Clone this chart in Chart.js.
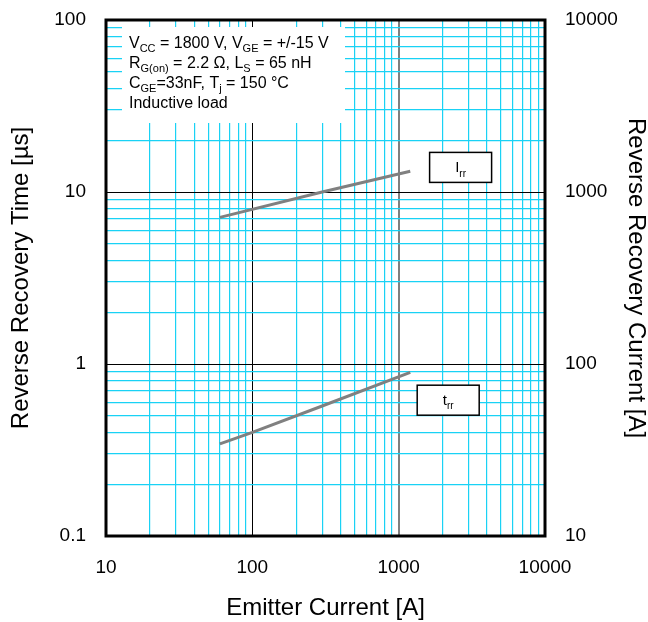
<!DOCTYPE html>
<html lang="en">
<head>
  <meta charset="UTF-8">
  <title>Reverse Recovery vs Emitter Current</title>
  <script src="https://cdn.jsdelivr.net/npm/chart.js"></script>
  <style>
    body { margin: 0; background: #fff; }
    #wrap { width: 648px; height: 622px; }
  </style>
</head>
<body>
  <div id="wrap"><canvas id="rrChart" width="648" height="622"></canvas></div>

  <script>
    // data
    const irrCurrent = [60, 300, 1200];        // emitter current [A]
    const irrValues  = [712, 1000, 1320];      // reverse recovery current [A]
    const trrCurrent = [60, 100, 300, 1200];   // emitter current [A]
    const trrValues  = [0.343, 0.40, 0.57, 0.894]; // reverse recovery time [us]

    const xDecades  = [10, 100, 1000, 10000];
    const yDecades  = [0.1, 1, 10, 100];
    const y2Decades = [10, 100, 1000, 10000];

    const noteLines = [
      [['V', 0], ['CC', 1], [' = 1800 V, V', 0], ['GE', 1], [' = +/-15 V', 0]],
      [['R', 0], ['G(on)', 1], [' = 2.2 \u03A9, L', 0], ['S', 1], [' = 65 nH', 0]],
      [['C', 0], ['GE', 1], ['=33nF, T', 0], ['j', 1], [' = 150 \u00B0C', 0]],
      [['Inductive load', 0]]
    ];

    const FONT = 'Arial, "Liberation Sans", sans-serif';
    const CYAN = '#19d2f5';

    // every 1..9 step inside the decades
    function logTicks(decades) {
      const out = [];
      for (let i = 0; i < decades.length - 1; i++) {
        for (let k = 1; k < 10; k++) out.push(+(decades[i] * k).toPrecision(3));
      }
      out.push(decades[decades.length - 1]);
      return out;
    }

    function isDecade(v) {
      const l = Math.log10(v);
      return Math.abs(l - Math.round(l)) < 1e-9;
    }

    function drawRich(ctx, parts, x, y, size) {
      parts.forEach(([txt, sub]) => {
        ctx.font = (sub ? Math.round(size * 0.68) : size) + 'px ' + FONT;
        ctx.fillText(txt, x, y + (sub ? size * 0.28 : 0));
        x += ctx.measureText(txt).width;
      });
    }

    const overlay = {
      id: 'overlay',
      beforeDatasetsDraw(chart) {
        const ctx = chart.ctx, a = chart.chartArea;
        // white note box covering the grid
        ctx.save();
        ctx.fillStyle = '#fff';
        ctx.fillRect(a.left + 16, a.top + 7, 223, 96);
        ctx.fillStyle = '#000';
        ctx.textBaseline = 'alphabetic';
        noteLines.forEach((line, i) => drawRich(ctx, line, a.left + 23, a.top + 28 + i * 20, 16));
        ctx.restore();
      },
      afterDatasetsDraw(chart) {
        const ctx = chart.ctx, sx = chart.scales.x;
        const boxes = [
          { x: sx.getPixelForValue(2650), y: chart.scales.y2.getPixelForValue(1390), main: 'I', sub: 'rr' },
          { x: sx.getPixelForValue(2180), y: chart.scales.y.getPixelForValue(0.616), main: 't', sub: 'rr' }
        ];
        ctx.save();
        boxes.forEach(b => {
          ctx.fillStyle = '#fff';
          ctx.fillRect(b.x - 31, b.y - 15, 62, 30);
          ctx.strokeStyle = '#000';
          ctx.lineWidth = 1.5;
          ctx.strokeRect(b.x - 31, b.y - 15, 62, 30);
          ctx.fillStyle = '#000';
          ctx.font = '15px ' + FONT;
          const w1 = ctx.measureText(b.main).width;
          ctx.font = '10px ' + FONT;
          const w2 = ctx.measureText(b.sub).width;
          drawRich(ctx, [[b.main, 0], [b.sub, 1]], b.x - (w1 + w2) / 2, b.y + 5, 15);
        });
        ctx.restore();
      },
      afterDraw(chart) {
        const ctx = chart.ctx, a = chart.chartArea;
        ctx.save();
        ctx.strokeStyle = '#000';
        ctx.lineWidth = 3;
        ctx.strokeRect(a.left, a.top, a.right - a.left, a.bottom - a.top);
        ctx.restore();
      }
    };

    function gridColor(c) {
      const v = c.tick && c.tick.value;
      if (c.scale.id === 'x' && v === 1000) return '#808080';
      return isDecade(v) ? '#000' : CYAN;
    }
    function gridWidth(c) {
      const v = c.tick && c.tick.value;
      if (c.scale.id === 'x' && v === 1000) return 2;
      return isDecade(v) ? 1 : 1.2;
    }

    function decadeLabel(v) {
      return isDecade(v) ? String(v) : '';
    }

    function fitVertical(w) {
      return s => { s.width = w; s.paddingTop = 0; s.paddingBottom = 0; };
    }

    const tickFont = { family: FONT, size: 19 };
    const titleFont = { family: FONT, size: 24 };

    new Chart(document.getElementById('rrChart'), {
      type: 'line',
      data: {
        datasets: [
          {
            label: 'Irr',
            data: irrCurrent.map((x, i) => ({ x: x, y: irrValues[i] })),
            yAxisID: 'y2',
            borderColor: '#808080',
            borderWidth: 3,
            pointRadius: 0,
            tension: 0
          },
          {
            label: 'trr',
            data: trrCurrent.map((x, i) => ({ x: x, y: trrValues[i] })),
            yAxisID: 'y',
            borderColor: '#808080',
            borderWidth: 3,
            pointRadius: 0,
            tension: 0
          }
        ]
      },
      options: {
        responsive: false,
        animation: false,
        layout: { padding: { top: 20, left: 0, right: 0, bottom: 0 } },
        plugins: { legend: { display: false }, tooltip: { enabled: false } },
        scales: {
          x: {
            type: 'logarithmic',
            min: 10, max: 10000,
            afterBuildTicks: s => { s.ticks = logTicks(xDecades).map(v => ({ value: v })); },
            afterFit: s => { s.height = 86; s.paddingLeft = 0; s.paddingRight = 0; },
            ticks: { autoSkip: false, maxRotation: 0, padding: 20, color: '#000', font: tickFont, callback: decadeLabel },
            grid: { color: gridColor, lineWidth: gridWidth, drawTicks: false },
            border: { display: false },
            title: { display: true, text: 'Emitter Current [A]', color: '#000', font: titleFont, padding: { top: 0, bottom: -1 } }
          },
          y: {
            type: 'logarithmic',
            position: 'left',
            min: 0.1, max: 100,
            afterBuildTicks: s => { s.ticks = logTicks(yDecades).map(v => ({ value: v })); },
            afterFit: fitVertical(106),
            ticks: { autoSkip: false, padding: 20, color: '#000', font: tickFont, callback: decadeLabel },
            grid: { color: gridColor, lineWidth: gridWidth, drawTicks: false },
            border: { display: false },
            title: { display: true, text: 'Reverse Recovery Time [\u00B5s]', color: '#000', font: titleFont, padding: { top: 7, bottom: 0 } }
          },
          y2: {
            type: 'logarithmic',
            position: 'right',
            min: 10, max: 10000,
            afterBuildTicks: s => { s.ticks = y2Decades.map(v => ({ value: v })); },
            afterFit: fitVertical(103),
            ticks: { autoSkip: false, padding: 20, color: '#000', font: tickFont, callback: decadeLabel },
            grid: { display: false, drawTicks: false },
            border: { display: false },
            title: { display: true, text: 'Reverse Recovery Current [A]', color: '#000', font: titleFont, padding: { top: -2, bottom: 0 } }
          }
        }
      },
      plugins: [overlay]
    });
  </script>
</body>
</html>
